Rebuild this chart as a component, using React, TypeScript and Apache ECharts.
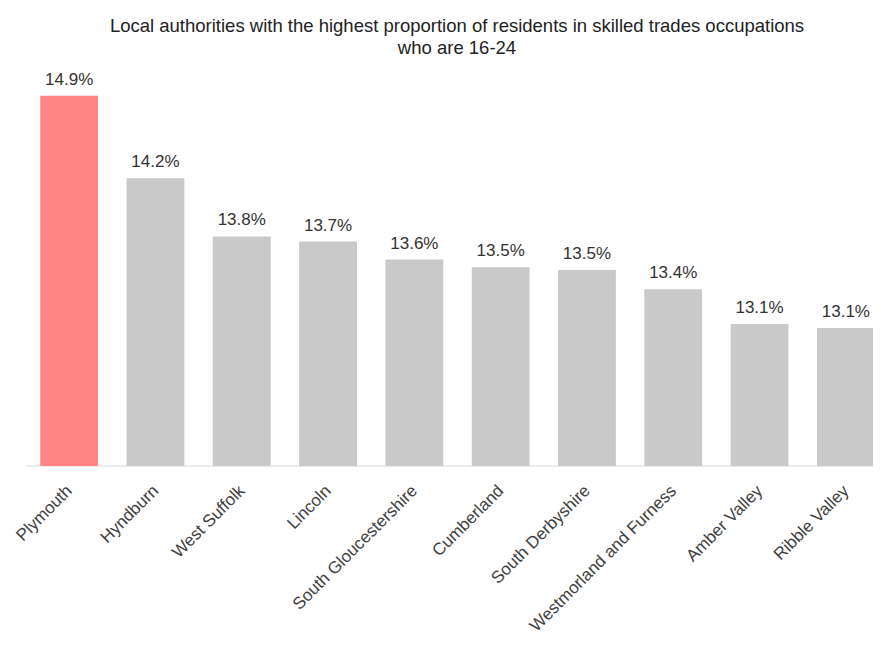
import React, { useEffect, useRef } from "react";
import * as echarts from "echarts";

const TITLE = "Local authorities with the highest proportion of residents in skilled trades occupations\nwho are 16-24";
const categories = [
  "Plymouth",
  "Hyndburn",
  "West Suffolk",
  "Lincoln",
  "South Gloucestershire",
  "Cumberland",
  "South Derbyshire",
  "Westmorland and Furness",
  "Amber Valley",
  "Ribble Valley",
];
const values = [14.87, 14.23, 13.78, 13.74, 13.6, 13.54, 13.52, 13.37, 13.1, 13.07];
const highlight = "Plymouth";

export default function App() {
  const ref = useRef<HTMLDivElement>(null);
  useEffect(() => {
    if (!ref.current) return;
    const chart = echarts.init(ref.current, undefined, { renderer: "svg" });
    chart.setOption({
      animation: false,
      backgroundColor: "#ffffff",
      textStyle: { fontFamily: "Liberation Sans, Arial, sans-serif" },
      title: {
        text: TITLE,
        left: 452,
        textAlign: "center",
        top: 9,
        textStyle: {
          fontSize: 18.5,
          fontWeight: "normal",
          color: "#222222",
          lineHeight: 22,
          fontFamily: "Liberation Sans, Arial, sans-serif",
        },
      },
      grid: { left: 26, width: 863, top: 79, bottom: 179, containLabel: false },
      xAxis: {
        type: "category",
        data: categories,
        axisLine: { show: true, lineStyle: { color: "#e6e6e6", width: 1.5 } },
        axisTick: { show: false },
        axisLabel: {
          rotate: 45,
          interval: 0,
          margin: 22,
          fontSize: 17,
          color: "#404040",
        },
      },
      yAxis: {
        type: "value",
        min: 12,
        max: 15,
        show: false,
        splitLine: { show: false },
      },
      series: [
        {
          type: "bar",
          barCategoryGap: "33%",
          data: categories.map((c, i) => ({
            value: values[i],
            itemStyle: { color: c === highlight ? "#ff8585" : "#c8c9c8" },
          })),
          label: {
            show: true,
            position: "top",
            distance: 8,
            fontSize: 17,
            color: "#333333",
            formatter: (p: any) => `${Number(p.value).toFixed(1)}%`,
          },
        },
      ],
    });
    return () => chart.dispose();
  }, []);
  return (
    <div style={{ width: 881, height: 645, margin: -8, overflow: "hidden" }}>
      <div ref={ref} style={{ width: 900, height: 645 }} />
    </div>
  );
}
